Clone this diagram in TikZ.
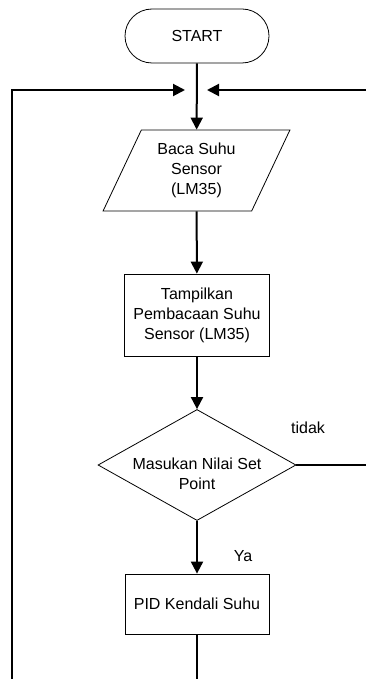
\documentclass[tikz,border=0pt]{standalone}
\usepackage{fontspec}
\setmainfont{Liberation Sans}
\usetikzlibrary{shapes.geometric,arrows.meta}
\begin{document}
\begin{tikzpicture}[x=1pt,y=-1pt,
  txt/.style={align=center,font=\fontsize{16}{20}\selectfont,inner sep=0pt},
  box/.style={txt,draw,line width=0.8pt},
  flow/.style={line width=2pt,-{Triangle[length=12pt,width=12pt]}},
  link/.style={line width=2pt}]
\useasboundingbox (0,0) rectangle (365,679);

% process blocks
\node[box,rounded corners=27pt,minimum width=144pt,minimum height=54pt] (start) at (197,36) {START};
\node[box,trapezium,trapezium left angle=63.7,trapezium right angle=116.3,
      trapezium stretches=true,minimum width=187pt,minimum height=81pt] (read) at (196.5,170.5)
      {Baca Suhu\\Sensor\\(LM35)};
\node[box,minimum width=145pt,minimum height=82pt] (show) at (197,315)
      {Tampilkan\\Pembacaan Suhu\\Sensor (LM35)};
\node[box,diamond,minimum width=198pt,minimum height=111pt] (dec) at (197,465) {};
\node[txt] (dectext) at (197,474) {Masukan Nilai Set\\Point};
\node[box,minimum width=144pt,minimum height=60pt] (pid) at (197,604) {PID Kendali Suhu};

% branch labels
\node[txt] (no) at (308,428) {tidak};
\node[txt] (yes) at (243,556) {Ya};

% return points
\coordinate (ltip) at (185,90);
\coordinate (rtip) at (207,90);
\coordinate (lb) at (197,700);
\coordinate (lc) at (12,700);
\coordinate (rc) at (380,465);

% main flow
\draw[flow] (start) -- (read);
\draw[flow] (read) -- (show);
\draw[flow] (show) -- (dec);
\draw[flow] (dec) -- (pid);

% loops back to the reading step
\draw[flow] (pid.south) -- (lb) -- (lc) |- (ltip);
\draw[flow] (dec.east) -- (rc) |- (rtip);
\end{tikzpicture}
\end{document}
